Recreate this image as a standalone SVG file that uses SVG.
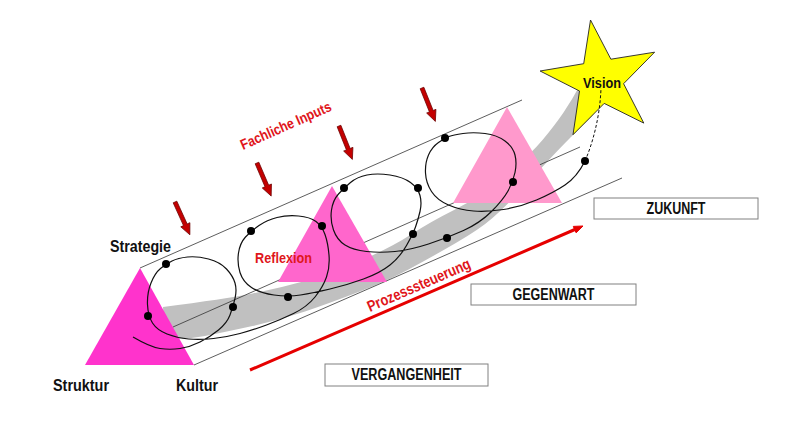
<svg xmlns="http://www.w3.org/2000/svg" width="800" height="426" viewBox="0 0 800 426">
<style>
.lbl{font-family:"Liberation Sans",Arial,sans-serif;font-weight:bold;fill:#111}
.red{font-family:"Liberation Sans",Arial,sans-serif;font-weight:bold;fill:#e0161b}
.guide{stroke:#333;stroke-width:0.8;fill:none}
.box{fill:#fff;stroke:#808080;stroke-width:1}
.dot{fill:#000}
</style>
<defs>
<polygon id="inArrow" points="-2,0 2,0 2,25 5,25 0,36 -5,25 -2,25" fill="#c40000" stroke="#6a0000" stroke-width="0.7"/>
</defs>
<rect width="800" height="426" fill="#fff"/>

<g id="band">
<path d="M163,307 Q225,299 252.5,293.5 Q280,288 305,281 Q330,274 361,260.5 Q392,247 411,234.5 Q430,222 455,209.5 Q480,197 505,176 Q530,155 542.5,140 Q555,125 563.5,112.5 Q572,100 580,85 L603,100 Q595,114 587.5,121 Q580,128 570,138 Q560,148 546.5,162.5 Q533,177 519,192 Q505,207 492.5,218 Q480,229 455,243.5 Q430,258 408.5,269.5 Q387,281 358.5,292 Q330,303 305,311.5 Q280,320 252.5,326 Q225,332 205,336 Q185,340 165,338 Z" fill="#c0c0c0"/>
</g>

<g id="guides">
<line class="guide" x1="140" y1="268" x2="522" y2="100"/>
<line class="guide" x1="173" y1="327" x2="580" y2="147"/>
<line class="guide" x1="194" y1="365" x2="622" y2="178"/>
</g>

<g id="triangle-1"><polygon points="140,268 85,365 194,365" fill="#ff33cc"/></g>
<g id="triangle-2"><polygon points="332,186 278,282 387,282" fill="#ff66cc"/></g>
<g id="triangle-3"><polygon points="507,107 453,203 562,203" fill="#ff99cc"/></g>

<g id="vision">
<polygon points="590.5,20 610.9,59.2 654.6,52.2 623.6,83.7 643.8,123.1 604.2,103.4 573,134.7 579.5,91 540.1,71 583.7,63.7" fill="#ffff00" stroke="#222" stroke-width="0.9"/>
</g>

<g id="connectors">
<path d="M133,337 Q150,347 160,348.5 Q170,350 180,348.5 Q190,347 200,342 Q210,337 218.5,330 Q227,323 230,315 Q233,307 235,298.5 Q237,290 235,283 Q233,276 226.5,269 Q220,262 208.5,259 Q197,256 187.5,257 Q178,258 172,261 Q166,264 160.5,268.5 Q155,273 151,283 Q147,293 147.5,304.5 Q148,316 152.5,323 Q157,330 167,334 Q177,338 188.5,339 Q200,340 213.5,338.5 Q227,337 240,333.5 Q253,330 266.5,325 Q280,320 293.5,313.5 Q307,307 315,297 Q323,287 326.5,277 Q330,267 329,255 Q328,243 325,234.5 Q322,226 316,221.5 Q310,217 298.5,216 Q287,215 277,217.5 Q267,220 259,225.5 Q251,231 245.5,237 Q240,243 238.5,253 Q237,263 240,272.5 Q243,282 251.5,287.5 Q260,293 274,295 Q288,297 300.5,295 Q313,293 330,289 Q347,285 363.5,279 Q380,273 390,265 Q400,257 406.5,245.5 Q413,234 415.5,227 Q418,220 420,211.5 Q422,203 420,195.5 Q418,188 410.5,182.5 Q403,177 390,175 Q377,173 367,175 Q357,177 350.5,182.5 Q344,188 338.5,194 Q333,200 331.5,210 Q330,220 333.5,230 Q337,240 345,245 Q353,250 366.5,251.5 Q380,253 395,251.5 Q410,250 428.5,244 Q447,238 463.5,230.5 Q480,223 491.5,211.5 Q503,200 508,191 Q513,182 515,172.5 Q517,163 515,155 Q513,147 505,141 Q497,135 485,133.5 Q473,132 463,133.5 Q453,135 449,136.5 Q445,138 438.5,142.5 Q432,147 428.5,155 Q425,163 425.5,173 Q426,183 431.5,191.5 Q437,200 448.5,205 Q460,210 473.5,211 Q487,212 503.5,209.5 Q520,207 536.5,200 Q553,193 565,185 Q577,177 585,161" fill="none" stroke="#111" stroke-width="1.2"/>
<path d="M585,161 C592,145 600,118 601,88" fill="none" stroke="#111" stroke-width="1" stroke-dasharray="3,2"/>
<g id="dots">
<circle class="dot" cx="166" cy="264" r="4"/>
<circle class="dot" cx="148" cy="316" r="4"/>
<circle class="dot" cx="233" cy="307" r="4"/>
<circle class="dot" cx="251" cy="231" r="4"/>
<circle class="dot" cx="322" cy="226" r="4"/>
<circle class="dot" cx="288" cy="297" r="4"/>
<circle class="dot" cx="344" cy="188" r="4"/>
<circle class="dot" cx="418" cy="188" r="4"/>
<circle class="dot" cx="413" cy="234" r="4"/>
<circle class="dot" cx="447" cy="238" r="4"/>
<circle class="dot" cx="445" cy="138" r="4"/>
<circle class="dot" cx="513" cy="182" r="4"/>
<circle class="dot" cx="585" cy="161" r="4"/>
</g>
<g id="input-arrows">
<use href="#inArrow" transform="translate(175,202) rotate(-24.4)"/>
<use href="#inArrow" transform="translate(257,163) rotate(-23.2)"/>
<use href="#inArrow" transform="translate(339,126) rotate(-21.8)"/>
<use href="#inArrow" transform="translate(422,88) rotate(-21.8)"/>
</g>
<g id="process-arrow">
<line x1="250" y1="370" x2="576" y2="229" stroke="#e60000" stroke-width="3"/>
<polygon points="583,226 576.1,232.8 573.3,226.4" fill="#e60000" stroke="#e60000" stroke-width="1"/>
</g>
</g>

<g id="labels">
<text class="lbl" x="110" y="252" font-size="16.5" textLength="61" lengthAdjust="spacingAndGlyphs">Strategie</text>
<text class="lbl" x="53" y="391" font-size="16.5" textLength="56" lengthAdjust="spacingAndGlyphs">Struktur</text>
<text class="lbl" x="176" y="391" font-size="16.5" textLength="42" lengthAdjust="spacingAndGlyphs">Kultur</text>
<text class="red" x="255" y="263" font-size="15" textLength="57" lengthAdjust="spacingAndGlyphs">Reflexion</text>
<text class="red" font-size="14.5" textLength="98" lengthAdjust="spacingAndGlyphs" transform="translate(243,150) rotate(-24)">Fachliche Inputs</text>
<text class="red" font-size="15.5" textLength="111" lengthAdjust="spacingAndGlyphs" transform="translate(370,312) rotate(-23.5)">Prozesssteuerung</text>
<text class="lbl" x="583" y="88" font-size="15" textLength="38" lengthAdjust="spacingAndGlyphs">Vision</text>
</g>

<g id="zukunft">
<rect class="box" x="594" y="198" width="164" height="21"/>
<text class="lbl" x="676" y="214" font-size="16" text-anchor="middle" textLength="59" lengthAdjust="spacingAndGlyphs">ZUKUNFT</text>
</g>
<g id="gegenwart">
<rect class="box" x="471" y="284" width="165" height="21"/>
<text class="lbl" x="553.5" y="300" font-size="16" text-anchor="middle" textLength="82" lengthAdjust="spacingAndGlyphs">GEGENWART</text>
</g>
<g id="vergangenheit">
<rect class="box" x="325" y="364" width="163" height="22"/>
<text class="lbl" x="406.5" y="380" font-size="16" text-anchor="middle" textLength="110" lengthAdjust="spacingAndGlyphs">VERGANGENHEIT</text>
</g>
</svg>
